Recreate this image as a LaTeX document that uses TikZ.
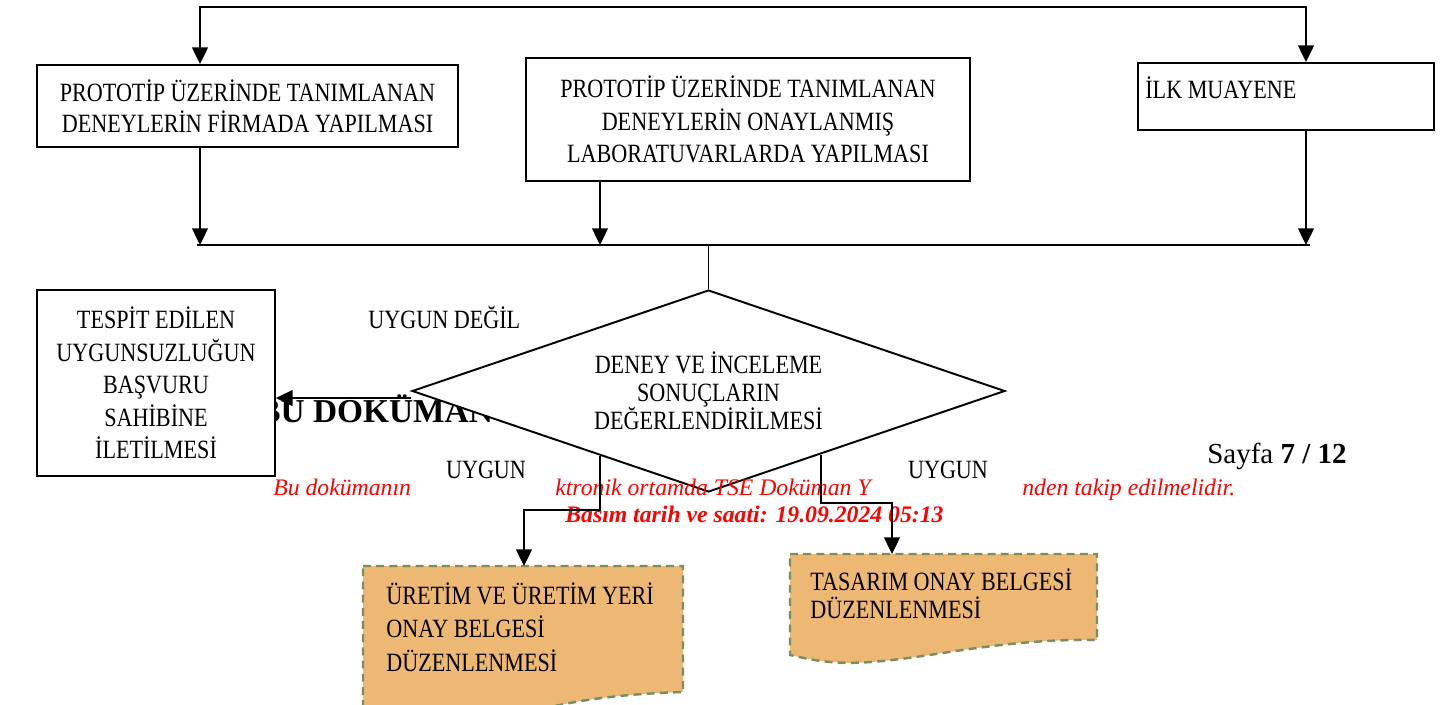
\documentclass[tikz,border=0pt]{standalone}
\usepackage{fontspec}
\setmainfont{Liberation Serif}
\newfontfamily\cmb{Liberation Serif}[FakeStretch=0.84]
\usetikzlibrary{shapes.geometric,arrows.meta,calc}
\definecolor{belgedolgu}{HTML}{EDB874}
\definecolor{belgecizgi}{HTML}{798F62}
\tikzset{
  kutu/.style={draw,line width=1.1pt,fill=white,align=center,inner sep=0pt,font=\cmb\fontsize{15}{18.5}\selectfont},
  yazi/.style={inner sep=0pt,font=\cmb\fontsize{15}{18.5}\selectfont},
  ok/.style={line width=1.1pt,-{Triangle[length=9.5pt,width=9pt]}},
  cizgi/.style={line width=1.1pt},
  belge/.style={fill=belgedolgu,draw=belgecizgi,line width=1.4pt,dash pattern=on 4.5pt off 3pt},
  dipnot/.style={inner sep=0pt,anchor=base west,text=red,font=\fontsize{13.5}{16}\selectfont\itshape},
}
\begin{document}
\begin{tikzpicture}[x=0.02cm,y=-0.02cm]
\useasboundingbox (0,0) rectangle (1448,704);
\clip (0,0) rectangle (1448,704);

% sayfanin arkasindaki yazilar
\node[inner sep=0pt,anchor=base west,font=\bfseries\fontsize{19}{22}\selectfont] (ust) at (258,422) {BU DOKÜMAN};
\node[inner sep=0pt,anchor=base west,font=\fontsize{16.5}{19}\selectfont] (sayfa) at (1207,463) {Sayfa \textbf{7 / 12}};

% kutular
\node[kutu,minimum width=8.42cm,minimum height=1.64cm,font=\cmb\fontsize{15}{17.6}\selectfont] (firma) at (247.5,106) {PROTOTİP ÜZERİNDE TANIMLANAN\\DENEYLERİN FİRMADA YAPILMASI};
\node[kutu,minimum width=8.88cm,minimum height=2.46cm] (lab) at (748,119.5) {PROTOTİP ÜZERİNDE TANIMLANAN\\DENEYLERİN ONAYLANMIŞ\\LABORATUVARLARDA YAPILMASI};
\node[kutu,minimum width=5.92cm,minimum height=1.34cm] (ilk) at (1286,96.5) {};
\node[yazi,anchor=west] (ilkyazi) at (1145,88) {İLK MUAYENE};
\node[kutu,minimum width=4.76cm,minimum height=3.72cm] (bildir) at (156,383) {TESPİT EDİLEN\\UYGUNSUZLUĞUN\\BAŞVURU\\SAHİBİNE\\İLETİLMESİ};
\node[kutu,diamond,aspect=2.94,minimum width=11.86cm,minimum height=4.04cm,font=\cmb\fontsize{15}{16}\selectfont] (deger) at (708.5,391) {DENEY VE İNCELEME\\SONUÇLARIN\\DEĞERLENDİRİLMESİ};

% belgeler
\draw[belge] (363,566) -- (683,566) -- (683,692) .. controls (620,694) and (575,700) .. (530,712) -- (363,730) -- cycle;
\draw[belge] (790,554) -- (1097,554) -- (1097,640) .. controls (980,638) and (900,668) .. (830,662) .. controls (810,660) and (800,657) .. (790,655) -- cycle;
\node[yazi,anchor=west,align=left,font=\cmb\fontsize{15}{19}\selectfont] (uretim) at (386,627) {ÜRETİM VE ÜRETİM YERİ\\ONAY BELGESİ\\DÜZENLENMESİ};
\node[yazi,anchor=west,align=left,font=\cmb\fontsize{15}{16}\selectfont] (tasarim) at (810,594) {TASARIM ONAY BELGESİ\\DÜZENLENMESİ};

% etiketler
\node[yazi,anchor=west] (uygundegil) at (368,317) {UYGUN DEĞİL};
\node[yazi] (uygun1) at (486,470) {UYGUN};
\node[yazi] (uygun2) at (948,470) {UYGUN};

\node[dipnot] (dip1) at (273,495) {Bu dokümanın};
\node[dipnot] (dip2) at (555,495) {ktronik ortamda TSE Doküman Y};
\node[dipnot] (dip3) at (1022,495) {nden takip edilmelidir.};
\node[dipnot,font=\fontsize{13.5}{16}\selectfont\bfseries\itshape] (basim) at (565,522) {Basım tarih ve saati: 19.09.2024 05:13};

% baglantilar
\coordinate (sol) at (200,7);
\coordinate (sag) at (1306,7);
\coordinate (topla1) at (197,245);
\coordinate (topla2) at (1310,245);
\coordinate (orta) at (600,245);
\draw[cizgi,{Triangle[length=9.5pt,width=9pt]}-{Triangle[length=9.5pt,width=9pt]}] (firma.north -| sol) -- (sol) -- (sag) -- (ilk.north -| sag);
\draw[cizgi] (topla1) -- (topla2);
\draw[ok] (firma.south -| sol) -- (sol |- topla1);
\draw[ok] (lab.south -| orta) -- (orta);
\draw[ok] (ilk.south -| sag) -- (sag |- topla2);
\draw[cizgi] (deger.north |- topla1) -- (deger.north);
\draw[ok] ([yshift=-4]deger.west) -- ([yshift=-4]deger.west -| bildir.east);

\coordinate (cikis1) at ($(deger.west)!0.635!(deger.south)$);
\coordinate (cikis2) at ($(deger.south)!0.377!(deger.east)$);
\coordinate (kirilma1) at (524,510);
\coordinate (kirilma2) at (892,503);
\coordinate (belge1ust) at (524,566);
\coordinate (belge2ust) at (892,554);
\draw[ok] (cikis1) |- (kirilma1) -- (belge1ust);
\draw[ok] (cikis2) |- (kirilma2) -- (belge2ust);
\end{tikzpicture}
\end{document}
